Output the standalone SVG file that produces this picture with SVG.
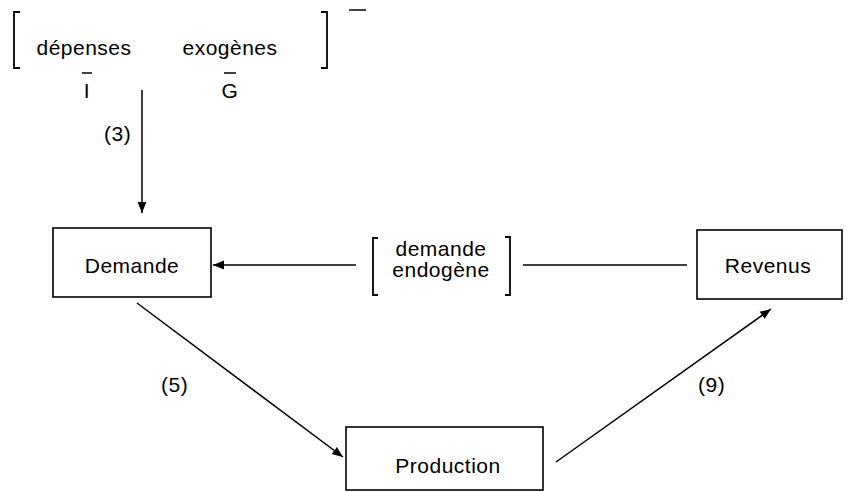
<svg xmlns="http://www.w3.org/2000/svg" width="848" height="492" viewBox="0 0 848 492">
<defs>
<marker id="ah" viewBox="0 0 10 10" refX="10" refY="5" markerWidth="11" markerHeight="11" markerUnits="userSpaceOnUse" orient="auto">
<path d="M0,1 L10,5 L0,9 Z" fill="#000"/>
</marker>
<style>
text{font-family:"Liberation Sans","DejaVu Sans",sans-serif;font-size:21px;fill:#000;letter-spacing:0.5px}
.box{fill:#fff;stroke:#000;stroke-width:1.6}
.br{fill:none;stroke:#000;stroke-width:1.8}
.ln{fill:none;stroke:#000;stroke-width:1.5}
.m{text-anchor:middle}
</style>
</defs>
<g id="exogenous">
<path class="br" d="M20,12 H14 V68 H20"/>
<path class="br" d="M321,12 H327 V68 H321"/>
<line class="ln" x1="349" y1="10" x2="366" y2="10"/>
<text class="m" x="84" y="55">dépenses</text>
<text class="m" x="230" y="55">exogènes</text>
<text class="m" x="87" y="98">I</text>
<line class="ln" x1="82" y1="73" x2="92" y2="73" stroke-width="1.2"/>
<text class="m" x="230" y="98">G</text>
<line class="ln" x1="224" y1="73" x2="236" y2="73" stroke-width="1.2"/>
</g>
<g id="demande">
<rect class="box" x="53" y="228" width="158" height="69"/>
<text class="m" x="132" y="273">Demande</text>
</g>
<g id="endogene">
<path class="br" d="M378,238 H373 V295 H378"/>
<path class="br" d="M505,237 H510 V295 H505"/>
<text class="m" x="441" y="256">demande</text>
<text class="m" x="441" y="277">endogène</text>
</g>
<g id="revenus">
<rect class="box" x="697" y="230" width="145" height="69"/>
<text class="m" x="768" y="273">Revenus</text>
</g>
<g id="production">
<rect class="box" x="346" y="427" width="197" height="63"/>
<text class="m" x="448" y="473">Production</text>
</g>
<g id="connectors">
<line class="ln" x1="142" y1="90" x2="142" y2="213" marker-end="url(#ah)"/>
<text x="104" y="141">(3)</text>
<line class="ln" x1="356" y1="265" x2="213" y2="265" marker-end="url(#ah)"/>
<line class="ln" x1="523" y1="265" x2="687" y2="265"/>
<line class="ln" x1="137" y1="303" x2="343" y2="457" marker-end="url(#ah)"/>
<text x="161" y="392">(5)</text>
<line class="ln" x1="556" y1="462" x2="771" y2="309" marker-end="url(#ah)"/>
<text x="698" y="392">(9)</text>
</g>
</svg>
